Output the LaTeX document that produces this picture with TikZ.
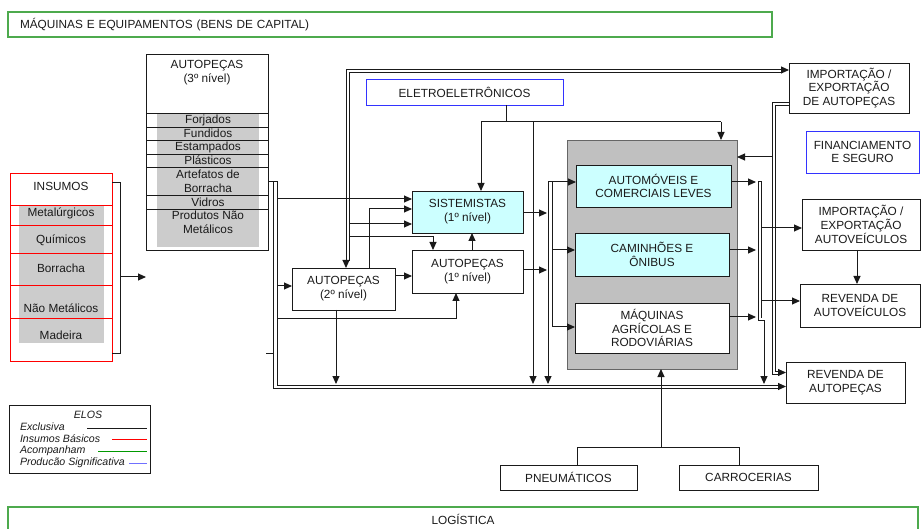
\documentclass[tikz,border=0pt]{standalone}
\usepackage{fontspec}
\setmainfont{Liberation Sans}
\usetikzlibrary{arrows.meta}
\definecolor{cyanbox}{HTML}{CCFFFF}
\definecolor{greybox}{HTML}{C0C0C0}
\definecolor{listgray}{HTML}{CCCCCC}
\definecolor{grn}{HTML}{4DAA4D}
\definecolor{blu}{HTML}{3333FF}
\definecolor{rd}{HTML}{FF0000}
\definecolor{ink}{HTML}{1A1A1A}
\tikzset{
  txt/.style={font=\fontsize{11.8}{13.8}\selectfont, text=ink, inner sep=0pt, outer sep=0pt, align=center},
  lgtxt/.style={font=\fontsize{10.6}{11}\selectfont\itshape, text=ink, inner sep=0pt, outer sep=0pt},
  bx/.style={txt, draw=ink, line width=0.95pt},
  ln/.style={draw=ink, line width=1pt},
  ar/.style={ln, -{Triangle[length=8pt,width=7pt]}},
  frame/.style={draw=ink, line width=0.95pt, inner sep=0pt, outer sep=0pt},
}
\begin{document}
\begin{tikzpicture}[x=1pt,y=-1pt]
\useasboundingbox (0,0) rectangle (921,529);

% green frames
\node[txt, draw=grn, line width=1.1pt, minimum height=25pt, text width=740pt, inner xsep=12pt, align=left] (capital) at (390,24.5) {MÁQUINAS E EQUIPAMENTOS (BENS DE CAPITAL)};
\node[txt, draw=grn, line width=1.1pt, minimum width=910pt, minimum height=24pt] (logistica) at (463,519) {LOGÍSTICA};

% INSUMOS
\fill[listgray] (19,205) rectangle (104,343);
\foreach \yy in {205,225,253,285,318} {\draw[rd, line width=0.8pt] (10,\yy) -- (112,\yy);}
\node[frame, draw=rd, minimum width=102pt, minimum height=188pt] (insumos) at (61,267) {};
\node[txt] (ins0) at (61,186) {INSUMOS};
\node[txt] (ins1) at (61,213) {Metalúrgicos};
\node[txt] (ins2) at (61,240) {Químicos};
\node[txt] (ins3) at (61,268) {Borracha};
\node[txt] (ins4) at (61,308) {Não Metálicos};
\node[txt] (ins5) at (61,335) {Madeira};

% AUTOPECAS 3o nivel
\fill[listgray] (157,113) rectangle (259,247);
\foreach \yy in {113,127,140,154,167,195,209} {\draw[ln, line width=0.8pt] (146,\yy) -- (268,\yy);}
\node[frame, minimum width=122pt, minimum height=196pt] (ap3) at (207,152) {};
\node[txt] (ap3h) at (207,73) {AUTOPEÇAS\\(3º nível)};
\node[txt] (f1) at (208,120.5) {Forjados};
\node[txt] (f2) at (208,133.5) {Fundidos};
\node[txt] (f3) at (208,147) {Estampados};
\node[txt] (f4) at (208,160.5) {Plásticos};
\node[txt] (f5) at (208,181) {Artefatos de\\Borracha};
\node[txt] (f6) at (208,202) {Vidros};
\node[txt] (f7) at (208,222.5) {Produtos Não\\Metálicos};

% middle nodes
\node[bx, draw=blu, minimum width=197pt, minimum height=26pt] (eletro) at (464.5,92) {ELETROELETRÔNICOS};
\node[bx, fill=cyanbox, minimum width=111pt, minimum height=42pt] (sist) at (467.5,212) {SISTEMISTAS\\(1º nível)};
\node[bx, minimum width=111pt, minimum height=43pt] (ap1) at (467.5,271.5) {AUTOPEÇAS\\(1º nível)};
\node[bx, minimum width=103pt, minimum height=42pt] (ap2) at (343.5,289) {AUTOPEÇAS\\(2º nível)};

% grey block
\node[frame, draw=black!60, fill=greybox, minimum width=170pt, minimum height=229pt] (grey) at (652,254.5) {};
\node[bx, fill=cyanbox, minimum width=155pt, minimum height=42pt] (auto) at (653.5,186) {AUTOMÓVEIS E\\COMERCIAIS LEVES};
\node[bx, fill=cyanbox, minimum width=154pt, minimum height=43pt] (cam) at (652,254.5) {CAMINHÕES E\\ÔNIBUS};
\node[bx, fill=white, minimum width=154pt, minimum height=50pt] (maq) at (652,328) {MÁQUINAS\\AGRÍCOLAS E\\RODOVIÁRIAS};

% right nodes
\node[bx, minimum width=120pt, minimum height=50pt] (impap) at (849,88) {IMPORTAÇÃO /\\EXPORTAÇÃO\\DE AUTOPEÇAS};
\node[bx, draw=blu, minimum width=113pt, minimum height=42pt] (fin) at (862.5,152) {FINANCIAMENTO\\E SEGURO};
\node[bx, minimum width=118pt, minimum height=51pt] (impauto) at (861,224.5) {IMPORTAÇÃO /\\EXPORTAÇÃO\\AUTOVEÍCULOS};
\node[bx, minimum width=120pt, minimum height=43pt] (revauto) at (860,305.5) {REVENDA DE\\AUTOVEÍCULOS};
\node[bx, minimum width=119pt, minimum height=41pt] (revap) at (845.5,382.5) {REVENDA DE\\AUTOPEÇAS};

% bottom nodes
\node[bx, minimum width=137pt, minimum height=25pt] (pneu) at (568.5,477.5) {PNEUMÁTICOS};
\node[bx, minimum width=139pt, minimum height=25pt] (carro) at (748.5,477.5) {CARROCERIAS};

% legend
\node[frame, line width=0.6pt, minimum width=141pt, minimum height=68pt] (legend) at (79.5,439) {};
\node[lgtxt] (lg0) at (88,415) {ELOS};
\node[lgtxt, anchor=west] (lg1) at (20,427) {Exclusiva};
\node[lgtxt, anchor=west] (lg2) at (20,439) {Insumos Básicos};
\node[lgtxt, anchor=west] (lg3) at (20,451) {Acompanham};
\node[lgtxt, anchor=west] (lg4) at (20,463) {Producão Significativa};
\draw[ink, line width=0.9pt] (87,428) -- (147,428);
\draw[rd, line width=0.9pt] (112,439) -- (147,439);
\draw[green!60!black, line width=0.9pt] (98,451) -- (147,451);
\draw[blu!70, line width=0.9pt] (129,463) -- (147,463);

% ---- connectors ----
% insumos bracket
\draw[ln] (insumos.east |- 0,183) -- (120,183) -- (120,353) -- (insumos.east |- 0,353);
\draw[ar] (120,277) -- (ap3.west |- 0,277);

% ap3 bracket (double) to revenda de autopecas
\draw[ln] (ap3.east |- 0,182) -- (277,182) -- (277,385) -- (780,385);
\draw[ln] (273,182) -- (273,388) -- (780,388);
\draw[ar] (778,386.5) -- (revap.west |- 0,386.5);
\draw[ar] (277,199) -- (sist.west |- 0,199);
\draw[ar] (277,286) -- (ap2.west |- 0,286);
\draw[ar] (277,319) -- (456,319) -- (ap1.south -| 456,0);
\draw[ln] (266,353) -- (273,353);

% top double line
\draw[ar] (346,70) -- (impap.west |- 0,70);
\draw[ln] (349,73) -- (781,73);
\draw[ar] (346,70) -- (ap2.north -| 346,0);
\draw[ln] (349,73) -- (349,261);
\draw[ar] (349,224) -- (sist.west |- 0,224);
\draw[ar] (349,237) -- (433,237) -- (ap1.north -| 433,0);

% autopecas 2 / 1 / sistemistas
\draw[ar] (ap2.north -| 369,0) -- (369,209) -- (sist.west |- 0,209);
\draw[ar] (ap2.east |- 0,276) -- (ap1.west |- 0,276);
\draw[ar] (ap2.south -| 336,0) -- (336,384);
\draw[ar] (ap1.north -| 472,0) -- (sist.south -| 472,0);

% eletroeletronicos
\draw[ln] (eletro.south -| 506,0) -- (506,122);
\draw[ln] (481,122) -- (721,122);
\draw[ar] (481,122) -- (sist.north -| 481,0);
\draw[ar] (721,122) -- (grey.north -| 721,0);
\draw[ar] (533,122) -- (533,384);

% into the vehicle bus
\draw[ar] (sist.east |- 0,213) -- (547,213);
\draw[ar] (ap1.east |- 0,270) -- (547,270);
\draw[ln] (552,182) -- (552,327);
\draw[ar] (552,182) -- (auto.west |- 0,182);
\draw[ar] (552,250) -- (cam.west |- 0,250);
\draw[ar] (552,327) -- (maq.west |- 0,327);
\draw[ar] (552,182) -- (548,182) -- (548,384);

% out of the vehicle block
\draw[ar] (auto.east |- 0,182) -- (756,182);
\draw[ar] (cam.east |- 0,250) -- (756,250);
\draw[ar] (maq.east |- 0,317) -- (756,317);
\draw[ar] (758,182) -- (758,321) -- (764,321) -- (764,384);
\draw[ln] (758,182) -- (761,182) -- (761,318);
\draw[ar] (761,228) -- (impauto.west |- 0,228);
\draw[ar] (761,301) -- (revauto.west |- 0,301);
\draw[ar] (impauto.south -| 857,0) -- (revauto.north -| 857,0);

% import/export autopecas return line
\draw[ln] (impap.west |- 0,103) -- (772,103) -- (772,374) -- (780,374);
\draw[ln] (impap.west |- 0,106) -- (775,106) -- (775,371) -- (780,371);
\draw[ar] (778,372.5) -- (revap.west |- 0,372.5);
\draw[ar] (772,157) -- (grey.east |- 0,157);

% pneumaticos / carrocerias
\draw[ln] (pneu.north -| 577,0) -- (577,447) -- (739,447) -- (carro.north -| 739,0);
\draw[ar] (661,447) -- (grey.south -| 661,0);
\end{tikzpicture}
\end{document}
